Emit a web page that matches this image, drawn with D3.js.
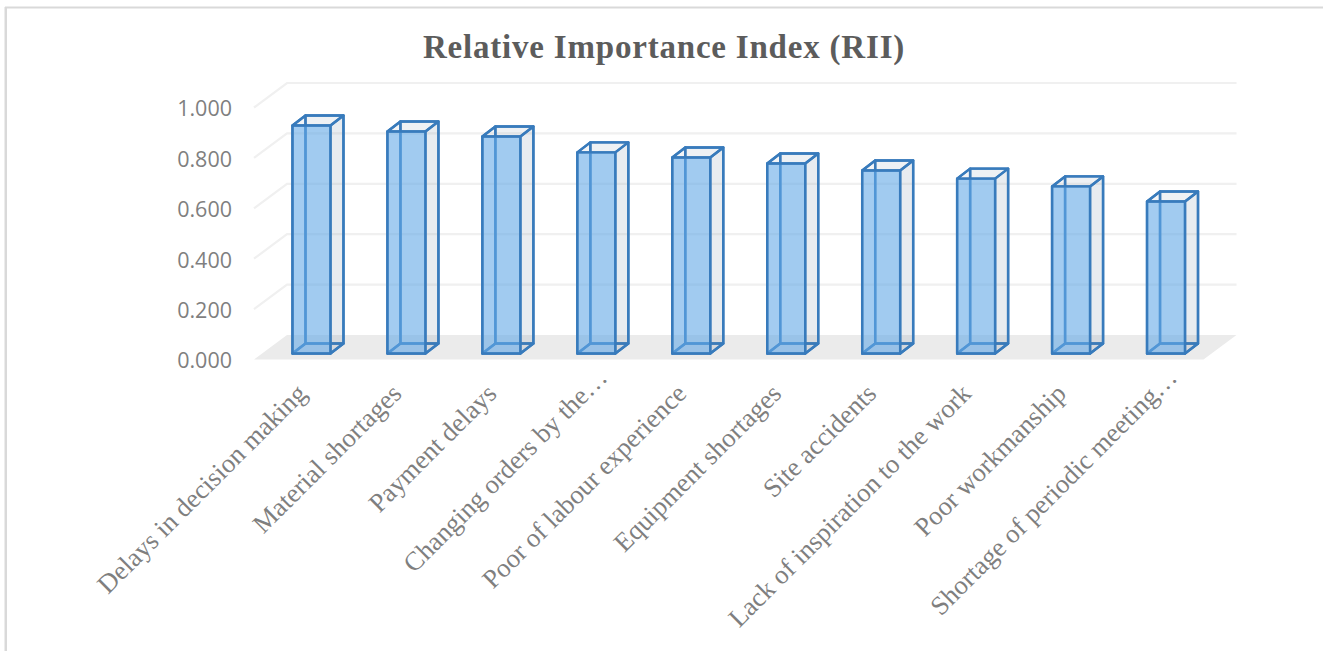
<!DOCTYPE html>
<html><head><meta charset="utf-8">
<script src="https://cdn.jsdelivr.net/npm/d3@7/dist/d3.min.js"></script>
<style>html,body{margin:0;padding:0;background:#fff;overflow:hidden}svg{display:block}</style>
</head><body><svg id="c" width="1323" height="651"></svg>
<script>
const categories = ["Delays in decision making","Material shortages","Payment delays","Changing orders by the…","Poor of labour experience","Equipment shortages","Site accidents","Lack of inspiration to the work","Poor workmanship","Shortage of periodic meeting…"];
const rii = [0.905,0.881,0.861,0.798,0.778,0.754,0.726,0.694,0.663,0.603];
const yTicks = [0,0.2,0.4,0.6,0.8,1.0];
const titleText = "Relative Importance Index (RII)";

const svg = d3.select("#c");
const W=1323,H=651;
// frame
svg.append("path").attr("d",`M6,${H}V7.5H${W}`).attr("fill","none").attr("stroke","#d9d9d9").attr("stroke-width",2);
svg.select("path").clone().attr("d",`M5.5,${H}V7`).attr("stroke-width",2);

const left=254,right=1203.5,y0=359.5,y1=107.5;
const depthX=33,depthY=-24.5;   // wall offset of the 3D box
const barDX=13,barDY=-10;       // bar depth
const barShiftX=10,barShiftY=-6;
const x=d3.scaleBand().domain(categories).range([left,right]).paddingInner(0.6).paddingOuter(0.3);
const y=d3.scaleLinear().domain([0,1]).range([y0,y1]);

// gridlines
const g=svg.append("g");
g.selectAll("path.grid").data(yTicks.filter(d=>d>0)).join("path").attr("class","grid")
 .attr("d",d=>`M${left},${y(d)}L${left+depthX},${y(d)+depthY}H${right+depthX}`)
 .attr("fill","none").attr("stroke","#f0f0f0").attr("stroke-width",2.2);
// floor
g.append("path").attr("d",`M${left},${y(0)}L${left+depthX},${y(0)+depthY}H${right+depthX}L${right},${y(0)}Z`).attr("fill","#ebebeb");

// bars
const stroke="#387bbc";
const bars=svg.append("g").selectAll("g").data(categories.map((c,i)=>({c,v:rii[i]}))).join("g")
 .attr("transform",d=>`translate(${x(d.c)+barShiftX},${barShiftY})`);
const bw=x.bandwidth();
const poly=(pts)=>"M"+pts.map(p=>p.join(",")).join("L")+"Z";
const common=s=>s.attr("stroke",stroke).attr("stroke-width",2.4).attr("stroke-linejoin","round");
// back wall
bars.append("path").attr("d",d=>poly([[barDX,y(0)+barDY],[barDX+bw,y(0)+barDY],[barDX+bw,y(d.v)+barDY],[barDX,y(d.v)+barDY]])).attr("fill","rgba(120,140,165,0.07)").call(common);
// floor of the bar
bars.append("path").attr("d",poly([[0,y(0)],[bw,y(0)],[bw+barDX,y(0)+barDY],[barDX,y(0)+barDY]])).attr("fill","rgba(120,140,165,0.10)").call(common);
// left wall
bars.append("path").attr("d",d=>poly([[0,y(0)],[barDX,y(0)+barDY],[barDX,y(d.v)+barDY],[0,y(d.v)]])).attr("fill","rgba(120,140,165,0.03)").call(common);
// right wall
bars.append("path").attr("d",d=>poly([[bw,y(0)],[bw+barDX,y(0)+barDY],[bw+barDX,y(d.v)+barDY],[bw,y(d.v)]])).attr("fill","rgba(110,135,160,0.09)").call(common);
// top
bars.append("path").attr("d",d=>poly([[0,y(d.v)],[bw,y(d.v)],[bw+barDX,y(d.v)+barDY],[barDX,y(d.v)+barDY]])).attr("fill","rgba(120,140,165,0.05)").call(common);
// front
bars.append("path").attr("d",d=>poly([[0,y(0)],[bw,y(0)],[bw,y(d.v)],[0,y(d.v)]])).attr("fill","rgba(100,170,232,0.58)").call(common);

// y axis
const ya=svg.append("g").attr("transform",`translate(${left},1.5)`)
 .call(d3.axisLeft(y).tickValues(yTicks).tickFormat(d3.format(".3f")).tickSize(0).tickPadding(22));
ya.select(".domain").remove();
ya.selectAll("text").attr("font-family","'Open Sans',sans-serif").attr("font-size",21.5).attr("fill","#7f7f7f");

// x axis
const xa=svg.append("g").attr("transform",`translate(0,${y0+29})`)
 .call(d3.axisBottom(x).tickSize(0).tickPadding(0));
xa.select(".domain").remove();
xa.selectAll("text").attr("font-family","'Liberation Serif',serif").attr("font-size",26.6).attr("fill","#7f7f7f")
 .attr("text-anchor","end").attr("dy","0.35em").attr("y",0).attr("dx",d=>d.endsWith("…")?"0.85em":0).attr("transform","rotate(-45)");

// title
svg.append("text").attr("x",664).attr("y",58).attr("text-anchor","middle")
 .attr("font-family","'Liberation Serif',serif").attr("font-weight","bold").attr("font-size",33)
 .attr("letter-spacing",0.8).attr("fill","#5c5c5c").text(titleText);
</script></body></html>
